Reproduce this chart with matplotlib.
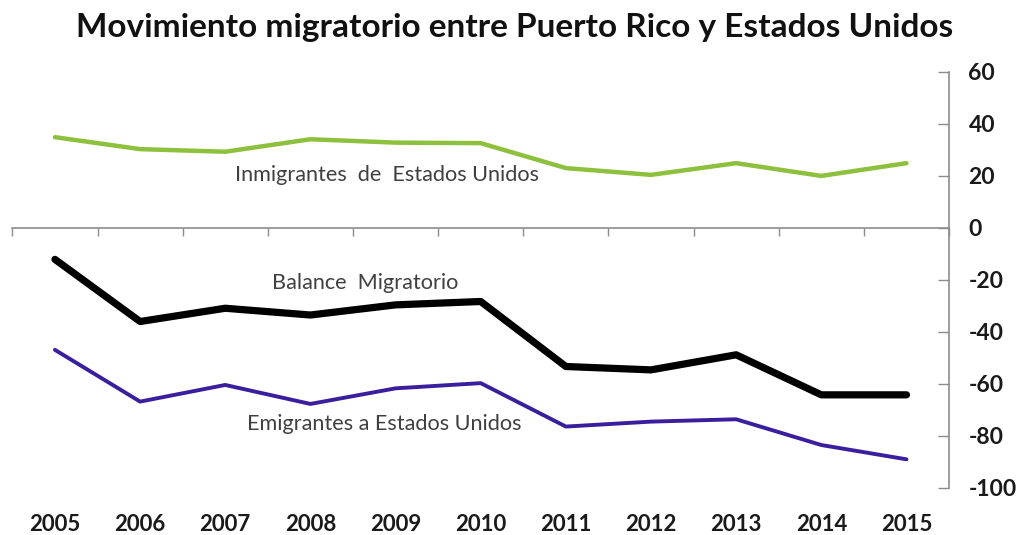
import numpy as np
import matplotlib
matplotlib.use("Agg")
import matplotlib.pyplot as plt
from matplotlib.ticker import FixedLocator

years = [2005, 2006, 2007, 2008, 2009, 2010, 2011, 2012, 2013, 2014, 2015]
inmigrantes = [34.9, 30.3, 29.3, 34.1, 32.8, 32.6, 23.0, 20.4, 24.9, 20.0, 24.9]
balance = [-12.1, -36.0, -30.9, -33.5, -29.6, -28.3, -53.3, -54.6, -48.8, -64.2, -64.2]
emigrantes = [-46.9, -66.8, -60.4, -67.7, -61.7, -59.7, -76.4, -74.5, -73.6, -83.5, -89.0]
y_ticks = [60, 40, 20, 0, -20, -40, -60, -80, -100]

title = "Movimiento migratorio entre Puerto Rico y Estados Unidos"
lbl_in = "Inmigrantes  de  Estados Unidos"
lbl_bal = "Balance  Migratorio"
lbl_em = "Emigrantes a Estados Unidos"

plt.rcParams["font.family"] = ["Lato", "DejaVu Sans"]

fig = plt.figure(figsize=(10.3, 5.35), dpi=100)
ax = fig.add_axes([0.012, 0.088, 0.9094, 0.7776])

x = np.arange(len(years))
ax.plot(x, inmigrantes, color="#8DC03C", lw=3.2, solid_joinstyle="round", solid_capstyle="round")
ax.plot(x, balance, color="#000000", lw=5.2, solid_joinstyle="round", solid_capstyle="round")
ax.plot(x, emigrantes, color="#3A1E9E", lw=2.8, solid_joinstyle="round", solid_capstyle="round")

ax.set_xlim(-0.5, len(years) - 0.5)
ax.set_ylim(min(y_ticks), max(y_ticks))

# Y axis on the right
ax.yaxis.tick_right()
ax.set_yticks(y_ticks)
ax.set_yticklabels([str(v) for v in y_ticks], fontsize=16.5, fontweight="bold", color="#1a1a1a")
ax.tick_params(axis="y", direction="in", length=8, width=1, color="#8c8c8c", pad=14)

for side in ("left", "top"):
    ax.spines[side].set_visible(False)
ax.spines["right"].set_color("#8c8c8c")
ax.spines["right"].set_linewidth(1.2)

# Category axis sits on the zero line, with ticks between categories
ax.spines["bottom"].set_position(("data", 0))
ax.spines["bottom"].set_color("#8c8c8c")
ax.spines["bottom"].set_linewidth(1.2)
ax.set_xticks(x)
ax.xaxis.set_minor_locator(FixedLocator(np.arange(len(years) + 1) - 0.5))
ax.tick_params(axis="x", which="major", length=0, labelbottom=False)
ax.tick_params(axis="x", which="minor", direction="out", length=6, width=1, color="#8c8c8c")

# Year labels along the bottom edge
sec = ax.secondary_xaxis("bottom")
sec.set_xticks(x)
sec.set_xticklabels([str(y) for y in years], fontsize=16, fontweight="bold", color="#1a1a1a")
sec.tick_params(length=0, pad=19)
sec.spines["bottom"].set_visible(False)

# Series labels
ax.text(3.9, 20.4, lbl_in, fontsize=15.6, color="#404040", ha="center", va="center")
ax.text(3.64, -21.2, lbl_bal, fontsize=15.6, color="#404040", ha="center", va="center")
ax.text(3.87, -75.4, lbl_em, fontsize=15.6, color="#404040", ha="center", va="center")

fig.text(0.5, 0.948, title, fontsize=24, fontweight="bold", color="#111111", ha="center", va="center")

fig.savefig("out.png", dpi=100)
